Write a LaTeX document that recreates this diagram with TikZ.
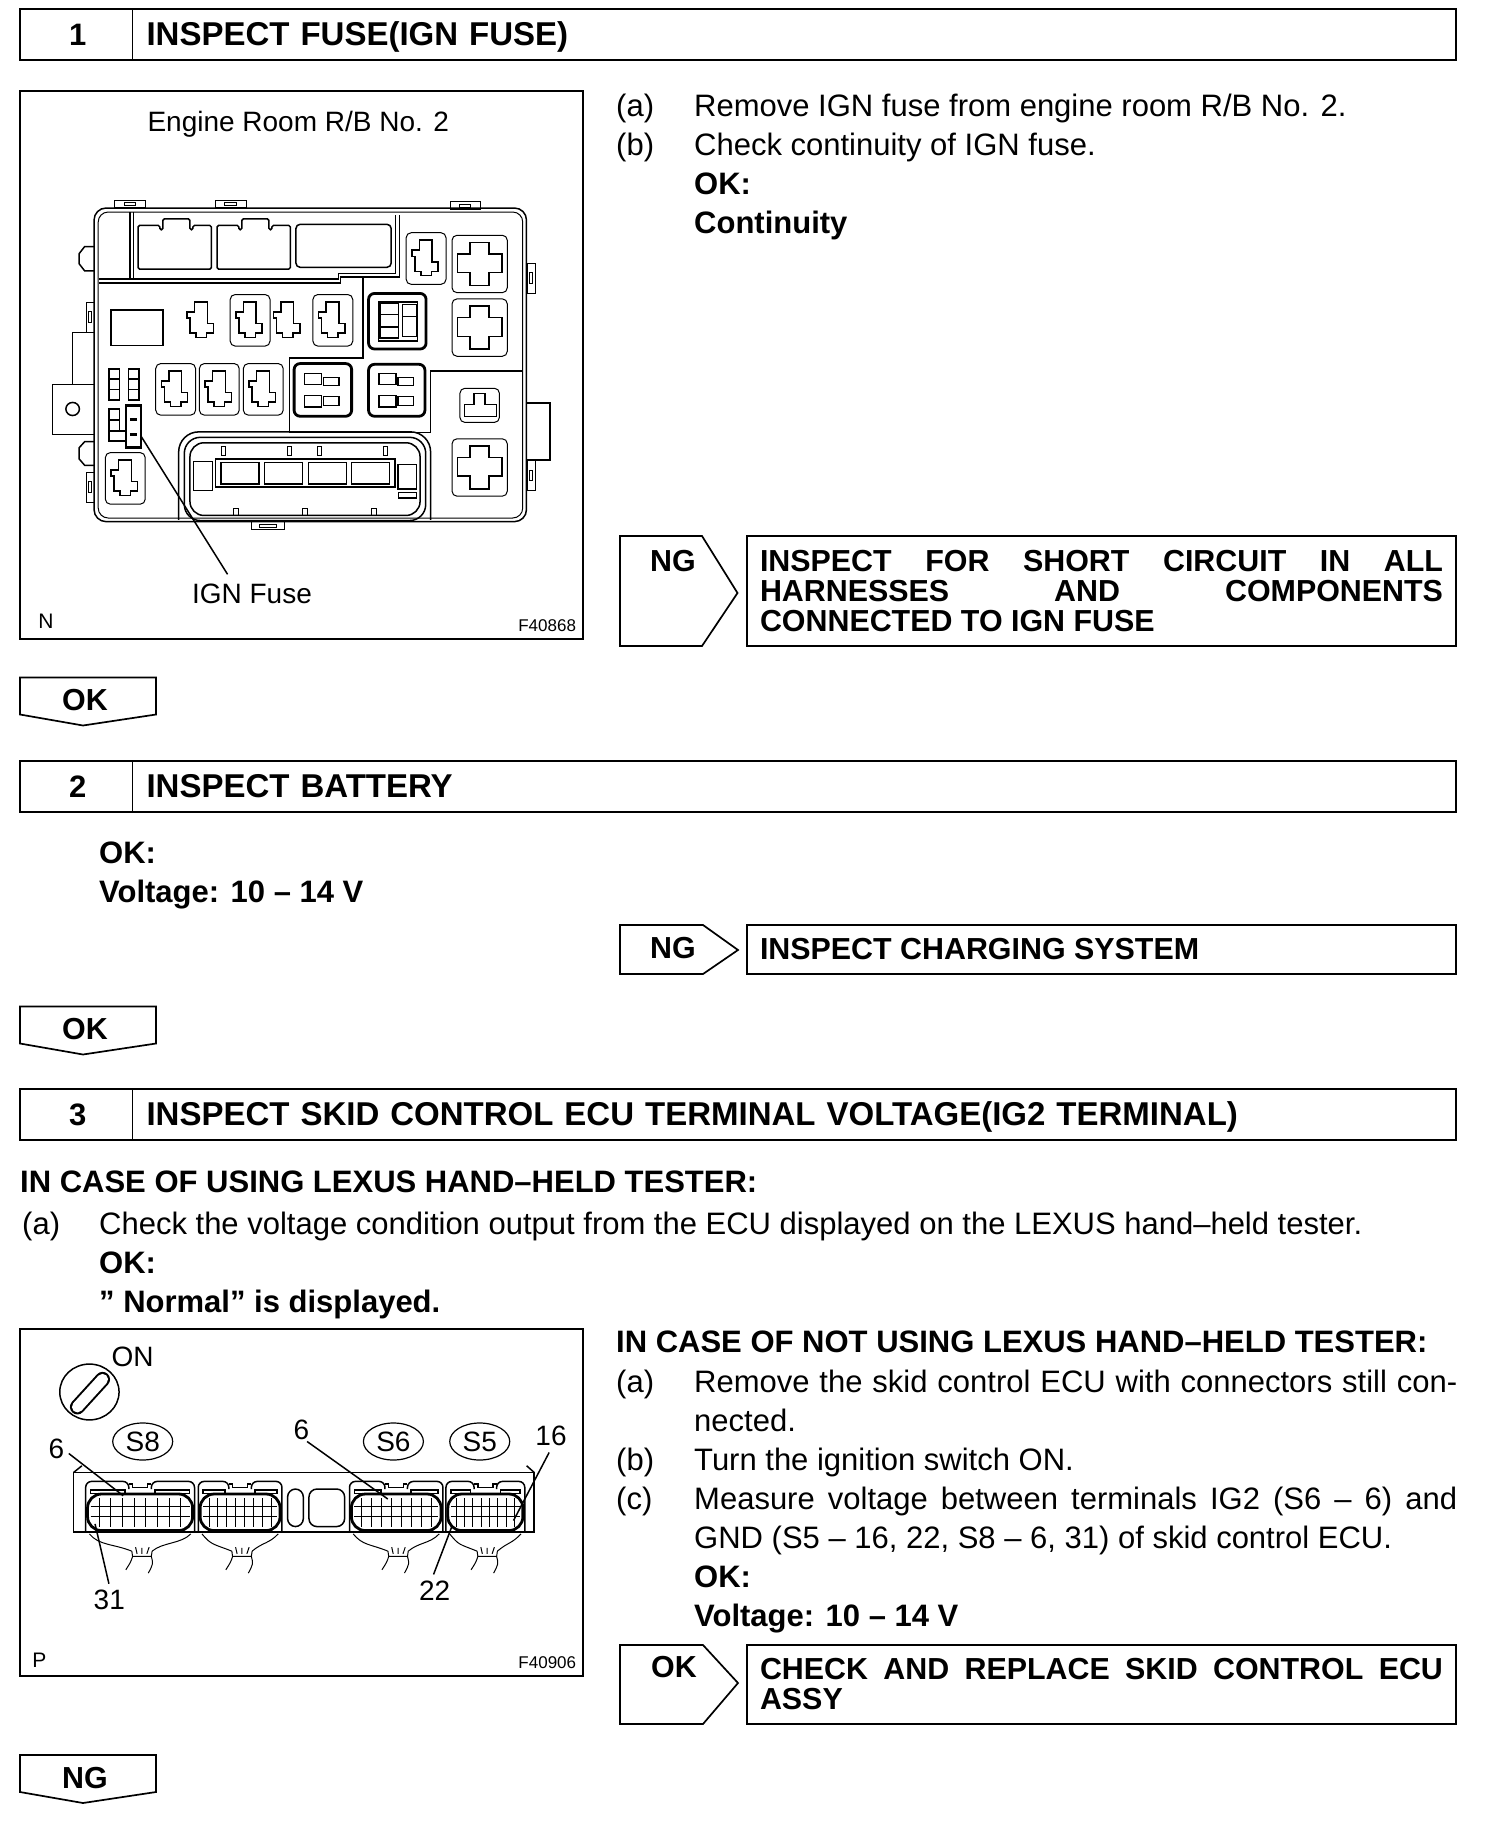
\documentclass[tikz,border=0pt]{standalone}
\usepackage{fontspec}
\setmainfont{Liberation Sans}
\usepackage{tikz}
\usetikzlibrary{positioning,shapes.geometric}
\newcommand{\bodyfont}{\fontsize{31}{39}\selectfont}
\newcommand{\resfont}{\fontsize{30.4}{30}\selectfont\bfseries}
\newcommand{\figfont}{\fontsize{28}{30}\selectfont}
\newcommand{\fillline}[1]{\makebox[683pt][s]{#1}}
\newcommand{\fullline}[1]{\makebox[763pt][s]{#1}}
\tikzset{
  hdnum/.style={rectangle,draw,line width=1.7pt,outer sep=0pt,anchor=north west,
                minimum width=112.5pt,minimum height=51pt,font=\fontsize{31}{31}\selectfont\bfseries},
  hdtitle/.style={rectangle,draw,line width=1.7pt,outer sep=0pt,anchor=west,inner xsep=14pt,
                  text width=1295.5pt,minimum height=51pt,align=left,text height=22pt,text depth=0pt,
                  font=\fontsize{33}{33}\selectfont\bfseries},
  figbox/.style={rectangle,draw,line width=2pt,outer sep=0pt,anchor=north west,minimum width=563pt},
  resbox/.style={rectangle,draw,line width=1.7pt,outer sep=0pt,anchor=north west,inner xsep=13pt,
                 text width=683pt,align=flush left,font=\resfont},
  tagline/.style={draw,line width=1.7pt,line join=miter},
  tagtxt/.style={inner sep=0pt,font=\fontsize{30.4}{30}\selectfont\bfseries},
  bodytxt/.style={inner sep=0pt,anchor=north west,align=left,font=\bodyfont},
  figtxt/.style={inner sep=0pt,font=\figfont},
  codetxt/.style={inner sep=0pt,font=\fontsize{17}{18}\selectfont},
  thinline/.style={line width=1pt},
  medline/.style={line width=1.5pt},
  boldline/.style={line width=2.8pt}
}
% plug outline with its nub, no surround
\newcommand{\plugbare}[2]{
  \draw[medline,shift={(#1,#2)}] (-18,-50) -- (16,-50) -- (16,10) -- (32,10) -- (32,36) -- (14,36)
    -- (14,48) -- (-14,48) -- (-14,36) -- (-30,36) -- (-30,-5) -- (-38,-5) -- (-38,-22) -- (-18,-22) -- cycle;
}
\newcommand{\plugsock}[2]{
  \plugbare{#1}{#2}
  \draw[thinline,rounded corners=5pt,shift={(#1,#2)}] (-53,-70) rectangle (53,72);
}
\newcommand{\crossplug}[2]{
  \draw[thinline,rounded corners=5pt,shift={(#1,#2)}] (-73,-78) rectangle (74,80);
  \draw[medline,shift={(#1,#2)}] (-25,-58) -- (25,-58) -- (25,-27) -- (60,-27) -- (60,25) -- (25,25)
    -- (25,60) -- (-25,60) -- (-25,25) -- (-58,25) -- (-58,-27) -- (-25,-27) -- cycle;
}
\newcommand{\relaybold}[4]{
  \draw[boldline,rounded corners=6pt] (#1,#2) rectangle (#3,#4);
}
\newcommand{\fuselet}[2]{
  \draw[medline,shift={(#1,#2)}] (0,0) rectangle (27,85) (0,28) -- (27,28) (0,56) -- (27,56);
}
\newcommand{\ecuconn}[2]{
  \pgfmathsetmacro{\midx}{(#1+#2)/2}
  \draw[medline,rounded corners=6pt] (#1-5,635) -- (#1-5,482) -- (\midx-30,482) -- (\midx-30,505)
    (\midx+30,505) -- (\midx+30,482) -- (#2+5,482) -- (#2+5,635);
  \draw[medline] (\midx-30,490) -- (\midx-20,490) -- (\midx-20,500) -- (\midx+20,500) -- (\midx+20,490) -- (\midx+30,490);
  \draw[medline] (#1+8,508) rectangle (\midx-40,518) (\midx+40,508) rectangle (#2-8,518);
  \draw[boldline,rounded corners=14pt] (#1,520) rectangle (#2,630);
  \draw[thinline] (#1+8,558) -- (#2-8,558) (#1+8,588) -- (#2-8,588);
  \foreach \k in {1,...,8}{
    \pgfmathsetmacro{\gx}{#1+\k*(#2-#1)/9}
    \draw[thinline] (\gx,532) -- (\gx,620);
  }
  \draw[thinline] (#1+5,640) .. controls (#1+30,675) and (\midx-70,670) .. (\midx-22,692);
  \draw[thinline] (#2-5,640) .. controls (#2-30,670) and (\midx+60,665) .. (\midx+32,692);
  \draw[thinline] (\midx-22,692) -- (\midx-20,708) -- (\midx+30,708) -- (\midx+32,692);
  \draw[thinline] (\midx-20,708) .. controls (\midx-25,725) .. (\midx-38,748);
  \draw[thinline] (\midx+30,708) .. controls (\midx+35,730) .. (\midx+22,758);
  \draw[thinline] (\midx-8,700) -- (\midx-12,680) (\midx+5,700) -- (\midx+5,682) (\midx+18,700) -- (\midx+24,680);
}
% tag that drops down to the next step
\newcommand{\downflag}[3]{
  \draw[tagline] (20,#1) -- (156,#1) -- (156,#1+37) -- (83,#1+48) -- (20,#1+37) -- cycle;
  \node[tagtxt] (#2) at (85,#1+23) {#3};
}
\begin{document}
\begin{tikzpicture}[x=1pt,y=-1pt]
  \useasboundingbox (0,0) rectangle (1504,1822);

  % step 1
  \node[hdnum] (numone) at (20,9) {\hspace*{3pt}1};
  \node[hdtitle,right=0pt of numone] (titleone) {INSPECT FUSE(IGN FUSE)};
  \node[figbox,minimum height=548pt] (figone) at (20,91) {};
  \node[bodytxt] (marksone) at (616,94) {(a)\\(b)};
  \node[bodytxt] (textone) at (694,94) {Remove IGN fuse from engine room R/B No. 2.\\
    Check continuity of IGN fuse.\\\textbf{OK:}\\\textbf{Continuity}};
  \draw[tagline] (620,536) -- (702,536) -- (737.5,593) -- (702,646) -- (620,646) -- cycle;
  \node[tagtxt] (ngone) at (673,561) {NG};
  \node[resbox,minimum height=110pt] (resone) at (747,536) {\fillline{INSPECT FOR SHORT CIRCUIT IN ALL}\\
    \fillline{HARNESSES AND COMPONENTS}\\CONNECTED TO IGN FUSE};

  \begin{scope}[shift={(9.47,80.1)},x=.376pt,y=-.3634pt]
    \node[figtxt] (roomlabel) at (768,122) {Engine Room R/B No. 2};
    \node[figtxt] (ignlabel) at (645,1415) {IGN Fuse};
    \node[figtxt,font=\fontsize{21}{22}\selectfont] (figmarkone) at (97,1490) {N};
    \node[codetxt] (figcodeone) at (1430,1500) {F40868};
    % outer case
    \draw[medline,rounded corners=12pt] (225,352) rectangle (1375,1215);
    \draw[thinline,rounded corners=10pt] (236,363) rectangle (1365,1205);
    % ears and clips
    \draw[medline] (225,458) -- (200,458) -- (185,478) -- (185,505) -- (200,525) -- (225,525);
    \draw[medline] (225,995) -- (200,995) -- (185,1012) -- (185,1042) -- (200,1060) -- (225,1060);
    \draw[medline] (225,695) -- (168,695) -- (168,838);
    \draw[medline] (225,838) -- (115,838) -- (115,975) -- (225,975);
    \draw[medline] (168,905) circle[radius=18];
    \draw[medline] (1375,888) -- (1437,888) -- (1437,1045) -- (1375,1045);
    \foreach \cx/\cy in {280/330,548/330,1172/335}{
      \draw[thinline,shift={(\cx,\cy)}] (0,0) rectangle (82,20) (25,8) rectangle (55,15);
    }
    \draw[thinline] (645,1215) rectangle (732,1237) (665,1222) rectangle (710,1230);
    \foreach \cx/\cy in {205/612,205/1080,1378/505,1378/1048}{
      \draw[thinline,shift={(\cx,\cy)}] (0,0) rectangle (20,82) (6,25) rectangle (14,55);
    }
    % partitions
    \draw[medline] (320,363) -- (320,550) (330,363) -- (330,548);
    \draw[medline] (238,558) -- (880,558) -- (880,542) -- (1037,542) -- (1037,370);
    \draw[medline] (238,548) -- (875,548) -- (875,532) -- (1027,532) -- (1027,370);
    \draw[medline] (940,542) -- (940,765) -- (745,765) -- (745,970) -- (1120,970) -- (1120,800) -- (1365,800);
    % top row
    \foreach \tx in {342,552}{
      \draw[medline,rounded corners=1.5pt,shift={(\tx,0)}] (0,400) -- (58,400) -- (58,412) -- (66,412) -- (66,382)
        -- (138,382) -- (138,412) -- (146,412) -- (146,400) -- (195,400) -- (195,520) -- (0,520) -- cycle;
    }
    \draw[medline,rounded corners=4pt] (762,397) rectangle (1015,515);
    \draw[medline] (270,632) rectangle (408,730);
    % sockets
    \foreach \px/\py in {640/660,860/660,442/850,558/850,675/850,308/1095,1108/490}{\plugsock{\px}{\py}}
    \foreach \px/\py in {510/660,740/660}{\plugbare{\px}{\py}}
    \foreach \py in {505,680,1065}{\crossplug{1250}{\py}}
    \draw[thinline,rounded corners=5pt] (1198,848) rectangle (1303,942);
    \draw[medline] (1235,862) -- (1265,862) -- (1265,892) -- (1295,892) -- (1295,925) -- (1210,925) -- (1210,892) -- (1235,892) -- cycle;
    % relays
    \relaybold{955}{587}{1108}{740}
    \draw[medline] (982,610) rectangle (1085,718) (985,615) rectangle (1035,710) (1045,618) rectangle (1083,705)
      (985,645) -- (1035,645) (985,680) -- (1035,680) (1045,650) -- (1083,650);
    \relaybold{757}{780}{910}{925}
    \relaybold{955}{782}{1105}{925}
    \foreach \rx in {785,983}{
      \draw[medline,shift={(\rx,0)}] (0,808) rectangle (45,838) (50,818) rectangle (92,840)
        (0,868) rectangle (45,900) (50,870) rectangle (92,895);
    }
    % fuses
    \fuselet{265}{795}
    \fuselet{317}{795}
    \draw[medline] (265,905) rectangle (292,965) (265,935) -- (292,935) (265,965) rectangle (310,993);
    \draw[boldline] (310,895) rectangle (350,1012) (320,935) -- (340,935) (320,975) -- (340,975);
    % bottom connector
    \draw[medline,rounded corners=20pt] (450,1210) -- (450,968) -- (1120,968) -- (1120,1210);
    \draw[medline,rounded corners=16pt] (465,1212) -- (465,983) -- (1107,983) -- (1107,1212) -- cycle;
    \draw[medline,rounded corners=14pt] (480,1198) -- (480,998) -- (1092,998) -- (1092,1198) -- cycle;
    \draw[medline] (548,1042) rectangle (1025,1120);
    \foreach \bx in {562,678,795,910}{\draw[medline] (\bx,1052) rectangle (\bx+101,1112);}
    \draw[medline] (490,1050) rectangle (540,1130) (1033,1058) rectangle (1083,1125) (1035,1135) rectangle (1083,1150);
    \foreach \bx in {570,745,825,1000}{\draw[thinline] (\bx-5,1008) rectangle (\bx+5,1032);}
    \foreach \bx in {603,785,970}{\draw[thinline] (\bx-7,1178) rectangle (\bx+7,1198);}
    % leader to the fuse
    \coordinate (ignfuse) at (350,980);
    \draw[medline] (ignfuse) -- (580,1360);
  \end{scope}

  \downflag{677.5}{okone}{OK}

  % step 2
  \node[hdnum] (numtwo) at (20,761) {\hspace*{3pt}2};
  \node[hdtitle,right=0pt of numtwo] (titletwo) {INSPECT BATTERY};
  \node[bodytxt] (texttwo) at (99,842) {\textbf{OK:}\\\textbf{Voltage: 10 – 14 V}};
  \draw[tagline] (620,925) -- (703,925) -- (738,950) -- (703,974) -- (620,974) -- cycle;
  \node[tagtxt] (ngtwo) at (673,948) {NG};
  \node[resbox,minimum height=49pt] (restwo) at (747,925) {INSPECT CHARGING SYSTEM};

  \downflag{1006.5}{oktwo}{OK}

  % step 3
  \node[hdnum] (numthree) at (20,1089) {\hspace*{3pt}3};
  \node[hdtitle,right=0pt of numthree] (titlethree) {INSPECT SKID CONTROL ECU TERMINAL VOLTAGE(IG2 TERMINAL)};
  \node[bodytxt,font=\bodyfont\bfseries] (usingtitle) at (20,1171) {IN CASE OF USING LEXUS HAND–HELD TESTER:};
  \node[bodytxt] (marksthree) at (22,1212) {(a)};
  \node[bodytxt] (textthree) at (99,1212) {Check the voltage condition output from the ECU displayed on the LEXUS hand–held tester.\\
    \textbf{OK:}\\\textbf{” Normal” is displayed.}};
  \node[figbox,minimum height=347.5pt] (figtwo) at (20,1328.5) {};
  \node[bodytxt,font=\bodyfont\bfseries] (notusingtitle) at (616,1330.5) {IN CASE OF NOT USING LEXUS HAND–HELD TESTER:};
  \node[bodytxt] (marksfour) at (616,1370) {(a)\\\\(b)\\(c)};
  \node[bodytxt] (textfour) at (694,1370) {\fullline{Remove the skid control ECU with connectors still con-}\\
    nected.\\Turn the ignition switch ON.\\
    \fullline{Measure voltage between terminals IG2 (S6 – 6) and}\\
    GND (S5 – 16, 22, S8 – 6, 31) of skid control ECU.\\
    \textbf{OK:}\\\textbf{Voltage: 10 – 14 V}};
  \draw[tagline] (620,1645) -- (703,1645) -- (738,1683) -- (703,1724) -- (620,1724) -- cycle;
  \node[tagtxt] (okfour) at (674,1667) {OK};
  \node[resbox,minimum height=79pt] (resthree) at (747,1645) {\fillline{CHECK AND REPLACE SKID CONTROL ECU}\\ASSY};

  \begin{scope}[shift={(10.6,1321.2)},x=.3753pt,y=-.3323pt]
    \node[figtxt] (onlabel) at (325,108) {ON};
    \node[figtxt] (sixleft) at (122,385) {6};
    \node[figtxt] (sixright) at (775,328) {6};
    \node[figtxt] (sixteen) at (1440,345) {16};
    \node[figtxt] (thirtyone) at (263,840) {31};
    \node[figtxt] (twentytwo) at (1130,810) {22};
    \node[figtxt,font=\fontsize{21}{22}\selectfont] (figmarktwo) at (77,1020) {P};
    \node[codetxt] (figcodetwo) at (1430,1028) {F40906};
    % key
    \draw[medline] (210,213) ellipse[x radius=79,y radius=84];
    \draw[line width=15pt,line cap=round] (178,258) -- (245,175);
    \draw[white,line width=11pt,line cap=round] (178,258) -- (245,175);
    % connector marks
    \foreach \sx/\sname in {352/S8,1020/S6,1250/S5}{
      \node[figtxt,draw,ellipse,line width=1.2pt,minimum width=60pt,minimum height=37pt] (mark\sname) at (\sx,362) {\sname};
    }
    % ECU body
    \draw[medline] (168,635) -- (168,455) -- (1395,455) -- (1395,635) -- cycle;
    \draw[medline] (168,455) -- (190,435) (1395,455) -- (1375,435);
    \ecuconn{205}{485}
    \ecuconn{505}{718}
    \ecuconn{908}{1147}
    \ecuconn{1165}{1365}
    \draw[medline,rounded corners=8pt] (738,505) rectangle (780,618);
    \draw[medline,rounded corners=8pt] (795,505) rectangle (890,618);
    % leaders
    \draw[medline] (sixleft) ++(33,13) -- (300,525);
    \draw[medline] (sixright) ++(15,34) -- (1005,535);
    \draw[medline] (sixteen) ++(-5,50) -- (1340,600);
    \draw[medline] (thirtyone) ++(-1,-50) -- (225,610);
    \draw[medline] (twentytwo) ++(-3,-48) -- (1175,620);
  \end{scope}

  \downflag{1755}{ngflag}{NG}
\end{tikzpicture}
\end{document}
